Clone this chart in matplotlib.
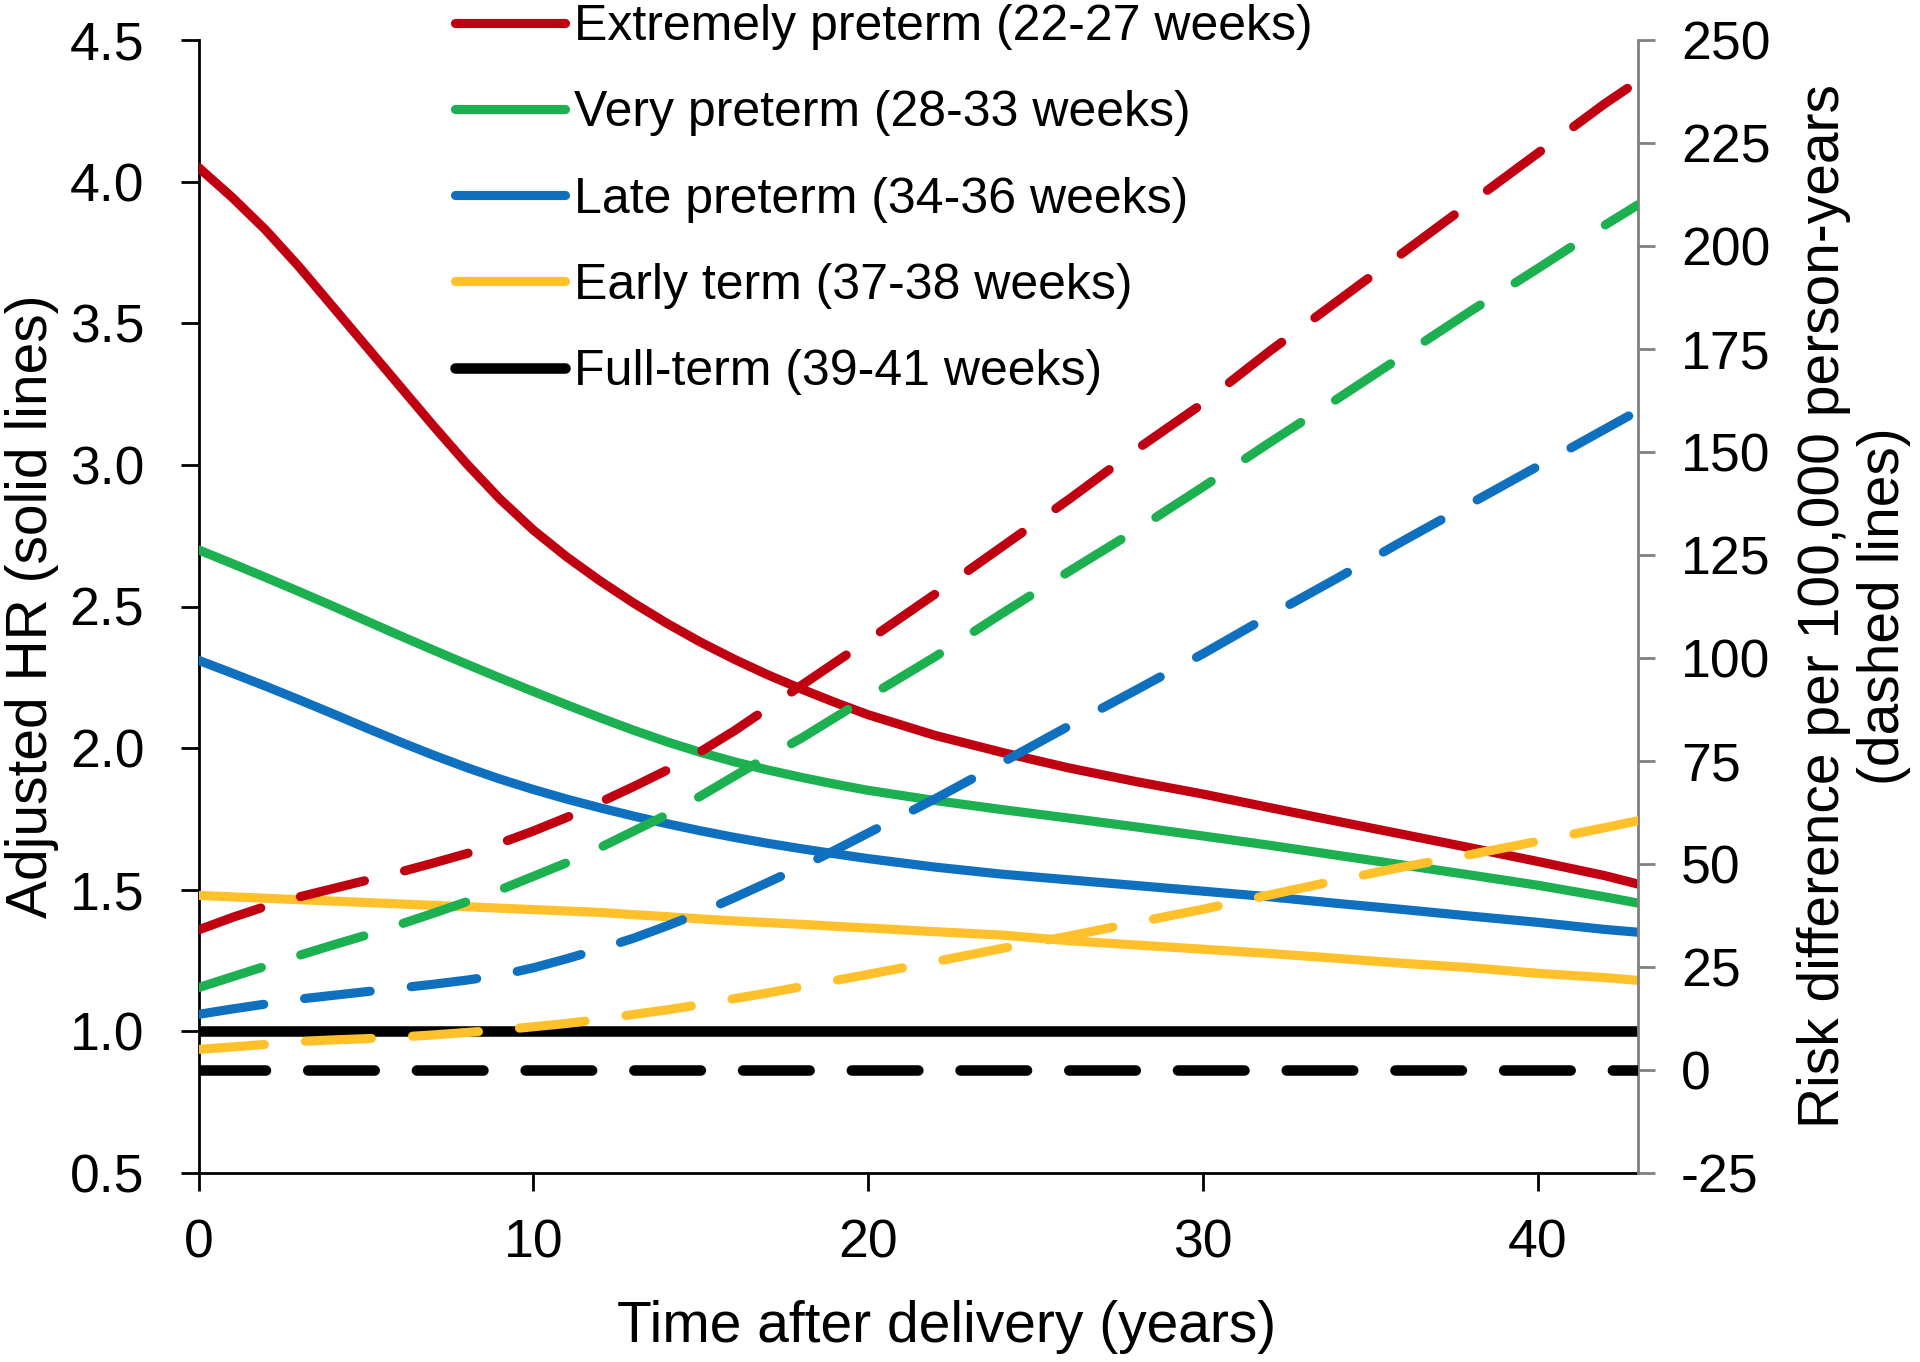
import matplotlib
matplotlib.use("Agg")
import matplotlib.pyplot as plt
from matplotlib.lines import Line2D

plt.rcParams['font.family'] = ['Liberation Sans', 'DejaVu Sans']

# ---- data ----
years = [0, 1, 2, 3, 4, 5, 6, 7, 8, 9, 10, 11, 12, 13, 14, 15, 16, 17, 18, 19, 20,
         22, 24, 26, 28, 30, 32, 34, 36, 38, 40, 42, 43]

# Adjusted HR (solid lines, left axis)
hr_extremely = [4.05, 3.945, 3.83, 3.70, 3.56, 3.42, 3.28, 3.14, 3.005, 2.88, 2.77, 2.675, 2.59, 2.512, 2.44, 2.374, 2.314, 2.259, 2.209, 2.162, 2.118,
                2.045, 1.985, 1.93, 1.882, 1.838, 1.79, 1.742, 1.695, 1.648, 1.60, 1.55, 1.52]
hr_very      = [2.70, 2.652, 2.603, 2.553, 2.502, 2.45, 2.398, 2.347, 2.297, 2.248, 2.20, 2.153, 2.107, 2.063, 2.022, 1.985, 1.952, 1.923, 1.897, 1.873, 1.851,
                1.815, 1.783, 1.753, 1.722, 1.69, 1.657, 1.622, 1.587, 1.552, 1.516, 1.475, 1.453]
hr_late      = [2.31, 2.265, 2.219, 2.171, 2.122, 2.072, 2.023, 1.976, 1.932, 1.891, 1.854, 1.82, 1.789, 1.76, 1.733, 1.708, 1.685, 1.664, 1.645, 1.627, 1.61,
                1.58, 1.555, 1.535, 1.515, 1.495, 1.475, 1.452, 1.43, 1.407, 1.385, 1.36, 1.35]
hr_early     = [1.48, 1.475, 1.47, 1.465, 1.46, 1.455, 1.45, 1.445, 1.44, 1.435, 1.43, 1.425, 1.42, 1.412, 1.405, 1.397, 1.39, 1.384, 1.378, 1.371, 1.365,
                1.352, 1.34, 1.32, 1.305, 1.29, 1.275, 1.258, 1.24, 1.225, 1.205, 1.19, 1.18]
hr_full      = [1.0] * len(years)

# Risk difference per 100,000 person-years (dashed lines, right axis)
rd_extremely = [34, 37, 39.7, 42, 44, 46, 48, 50.2, 52.5, 55, 58, 61.3, 65, 68.8, 72.8, 77.3, 82.3, 87.8, 93.3, 98.8, 104.3,
                115.5, 127, 138.5, 150.5, 161.8, 174.5, 186.5, 198.5, 210.5, 222.5, 234.5, 240]
rd_very      = [20, 22.6, 25.2, 27.8, 30.3, 32.7, 35.3, 38, 40.8, 43.7, 47, 50.3, 54, 58, 62, 66.5, 71.3, 76, 80.5, 85.5, 90.5,
                100.3, 110.8, 121, 131, 141.5, 152.3, 162.8, 173.5, 184.2, 194.5, 205, 210]
rd_late      = [13.5, 14.8, 16, 17.2, 18.1, 19, 19.9, 20.8, 21.8, 23, 24.8, 27, 29.4, 32, 35, 38.2, 41.8, 45.5, 49.3, 53.3, 57.5,
                65.8, 74.6, 83.5, 92.2, 101, 110.3, 119.3, 128.5, 137.5, 146.5, 155.5, 160]
rd_early     = [5, 5.6, 6.2, 6.9, 7.3, 7.6, 8.0, 8.5, 9.1, 9.7, 10.5, 11.3, 12.3, 13.5, 14.6, 15.9, 17.3, 18.7, 20.2, 21.7, 23.2,
                26.3, 29.5, 32.5, 35.8, 39, 42.5, 46, 49.3, 52.3, 55.5, 58.8, 60.5]
rd_full      = [0] * len(years)

labels = ["Extremely preterm (22-27 weeks)", "Very preterm (28-33 weeks)",
          "Late preterm (34-36 weeks)", "Early term (37-38 weeks)",
          "Full-term (39-41 weeks)"]
colors = ["#C00010", "#1DB050", "#0F70C0", "#FFC12B", "#000000"]
hr_series = [hr_extremely, hr_very, hr_late, hr_early, hr_full]
rd_series = [rd_extremely, rd_very, rd_late, rd_early, rd_full]

hr_ticks = [0.5, 1.0, 1.5, 2.0, 2.5, 3.0, 3.5, 4.0, 4.5]
rd_ticks = [-25, 0, 25, 50, 75, 100, 125, 150, 175, 200, 225, 250]
x_ticks = [0, 10, 20, 30, 40]

# ---- figure ----
fig = plt.figure(figsize=(19.2, 13.62), dpi=100)
pos = [198.5 / 1920, 1 - 1173 / 1362, (1638 - 198.5) / 1920, (1173 - 40) / 1362]
ax = fig.add_axes(pos)
ax2 = ax.twinx()
ax2.set_position(pos)

lw = 6.6
lw_black = 7.6
for vals, c in zip(hr_series, colors):
    w = lw_black if c == "#000000" else lw
    ax.plot(years, vals, color=c, lw=w, solid_capstyle='round',
            solid_joinstyle='round', zorder=3)

for vals, c in zip(rd_series, colors):
    if c == "#000000":
        ax2.plot(years, vals, color=c, lw=lw_black, linestyle=(0, (6.3, 4.0)),
                 dash_capstyle='round', zorder=3)
    else:
        ax2.plot(years, vals, color=c, lw=lw, linestyle=(0, (7.2, 4.5)),
                 dash_capstyle='round', dash_joinstyle='round', zorder=3)

ax.set_xlim(0, 43)
ax.set_ylim(0.5, 4.5)
ax2.set_ylim(-25, 250)

ax.set_xticks(x_ticks)
ax.set_yticks(hr_ticks)
ax.set_yticklabels([f"{v:.1f}" for v in hr_ticks])
ax2.set_yticks(rd_ticks)
ax2.set_yticklabels([str(v) for v in rd_ticks])

for a in (ax, ax2):
    a.spines['top'].set_visible(False)
ax.spines['right'].set_visible(False)
ax2.spines['left'].set_visible(False)
ax2.spines['bottom'].set_visible(False)
ax.spines['left'].set_linewidth(2)
ax.spines['bottom'].set_linewidth(2)
ax2.spines['right'].set_linewidth(2)
ax2.spines['right'].set_color('#808080')

ax.tick_params(axis='y', direction='out', length=13, width=2, labelsize=38.5, pad=26, colors='black')
ax.tick_params(axis='x', direction='out', length=13, width=2, labelsize=38.5, pad=20, colors='black')
ax2.tick_params(axis='y', direction='out', length=12, width=2, labelsize=38.5, pad=19,
                color='#808080', labelcolor='black')

ax.set_xlabel("Time after delivery (years)", fontsize=41)
ax.xaxis.set_label_coords(0.52, -0.112)
ax.set_ylabel("Adjusted HR (solid lines)", fontsize=41)
ax.yaxis.set_label_coords(-0.097, 0.5)
ax2.set_ylabel("Risk difference per 100,000 person-years\n(dashed lines)", fontsize=41,
               rotation=90, linespacing=1.15)
ax2.yaxis.set_label_coords(1.1105, 0.5)

handles = [Line2D([0], [0], color=c, lw=(lw_black if c == "#000000" else lw),
                  solid_capstyle='round') for c in colors]
leg = ax2.legend(handles, labels, loc='upper left', bbox_to_anchor=(454.5 / 1920, 0.997),
                 bbox_transform=fig.transFigure, frameon=False, fontsize=36,
                 handlelength=2.2, handletextpad=0.19, labelspacing=0.806,
                 borderpad=0, borderaxespad=0)

fig.savefig("out.png", dpi=100)
